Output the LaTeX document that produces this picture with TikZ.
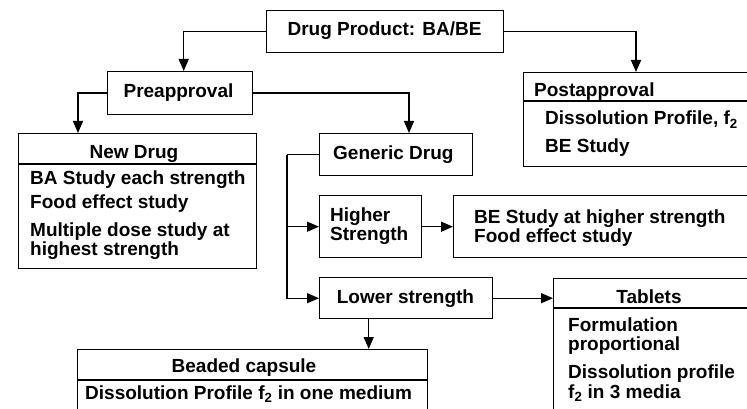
\documentclass[tikz,border=0pt]{standalone}
\usepackage{fontspec}
\setmainfont{Liberation Sans}
\usetikzlibrary{arrows.meta}
\begin{document}
\begin{tikzpicture}[x=1pt,y=-1pt,
  box/.style={draw, line width=1.4pt, inner sep=0pt, anchor=north west},
  txt/.style={font=\fontsize{19}{19}\bfseries\selectfont, inner sep=0pt},
  arr/.style={line width=1.4pt, -{Triangle[length=12pt,width=10pt]}},
  ln/.style={line width=1.4pt}]
\useasboundingbox (0,0) rectangle (747,409);
\clip (0,0) rectangle (747,409);
% boxes
\node[box, minimum width=237, minimum height=42] (prod) at (266,10) {};
\node[box, minimum width=145, minimum height=43] (pre) at (107,71) {};
\node[box, minimum width=238, minimum height=135] (newd) at (18,133) {};
\node[box, minimum width=153, minimum height=42] (gen) at (319,133) {};
\node[box, minimum width=102, minimum height=62] (higher) at (319,195) {};
\node[box, minimum width=300, minimum height=62] (bes) at (453,195) {};
\node[box, minimum width=173, minimum height=41] (lower) at (319,277) {};
\node[box, minimum width=210, minimum height=150] (tab) at (553,278) {};
\node[box, minimum width=350, minimum height=80] (bead) at (77,349) {};
\node[box, minimum width=230, minimum height=94] (post) at (523,72) {};
% dividers
\draw[ln] ([yshift=-31pt]newd.north west) -- ([yshift=-31pt]newd.north east);
\draw[ln] ([yshift=-29pt]post.north west) -- ([yshift=-29pt]post.north east);
\draw[ln] ([yshift=-30pt]tab.north west) -- ([yshift=-30pt]tab.north east);
\draw[ln] ([yshift=-31pt]bead.north west) -- ([yshift=-31pt]bead.north east);
% texts
\node[txt, anchor=base] (tprod) at (384.5,36) {Drug Product: BA/BE};
\node[txt, anchor=base] (tpre) at (178.5,98) {Preapproval};
\node[txt, anchor=base] (tnewd) at (134,158) {New Drug};
\node[txt, anchor=base west] (n1) at (30,184) {BA Study each strength};
\node[txt, anchor=base west] (n2) at (30,208) {Food effect study};
\node[txt, anchor=base west] (n3) at (30,236) {Multiple dose study at};
\node[txt, anchor=base west] (n4) at (30,255) {highest strength};
\node[txt, anchor=base west] (tgen) at (333,160) {Generic Drug};
\node[txt, anchor=base west] (th1) at (330,221) {Higher};
\node[txt, anchor=base west] (th2) at (330,240) {Strength};
\node[txt, anchor=base west] (b1) at (474,223) {BE Study at higher strength};
\node[txt, anchor=base west] (b2) at (474,242) {Food effect study};
\node[txt, anchor=base] (tlow) at (405.5,303) {Lower strength};
\node[txt, anchor=base] (ttab) at (649,303) {Tablets};
\node[txt, anchor=base west] (t1) at (568,331) {Formulation};
\node[txt, anchor=base west] (t2) at (568,350) {proportional};
\node[txt, anchor=base west] (t3) at (568,378) {Dissolution profile};
\node[txt, anchor=base west] (t4) at (568,398) {f\textsubscript{2} in 3 media};
\node[txt, anchor=base] (tbead) at (244,372) {Beaded capsule};
\node[txt, anchor=base west] (bd1) at (85,399) {Dissolution Profile f\textsubscript{2} in one medium};
\node[txt, anchor=base west] (tpost) at (534,97) {Postapproval};
\node[txt, anchor=base west] (p1) at (545,125) {Dissolution Profile, f\textsubscript{2}};
\node[txt, anchor=base west] (p2) at (545,153) {BE Study};
% connectors
\draw[arr] (prod.west) -| ([xshift=3.5pt]pre.north);
\draw[arr] (pre.west) -| ([xshift=60pt]newd.north west);
\draw[arr] (pre.east) -| ([xshift=90pt]gen.north west);
\draw[arr] (prod.east) -| ([xshift=113pt]post.north west);
\coordinate (sp) at ([xshift=-32pt]gen.west);
\draw[ln] (gen.west) -- (sp);
\draw[arr] (sp) |- (higher.west);
\draw[arr] (sp) |- (lower.west);
\draw[arr] (higher.east) -- (bes.west);
\draw[arr] (lower.east) -- (lower.east -| tab.west);
\coordinate (ls) at ([xshift=-37.5pt]lower.south);
\draw[arr] (ls) -- (ls |- bead.north);
\end{tikzpicture}
\end{document}
